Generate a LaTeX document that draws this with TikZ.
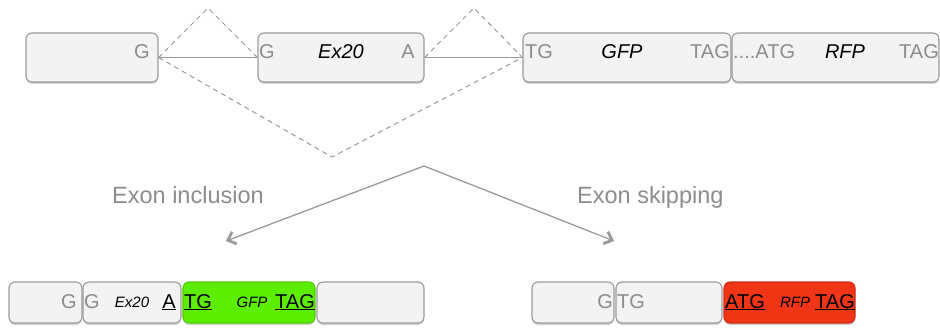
\documentclass[tikz,border=0pt]{standalone}
\usepackage{fontspec}
\setmainfont{Liberation Sans}
\usetikzlibrary{shadows,arrows.meta}
\definecolor{boxfill}{HTML}{F3F3F3}
\definecolor{boxline}{HTML}{9A9A9A}
\definecolor{seqgray}{HTML}{8C8C8C}
\definecolor{gfpgreen}{HTML}{5DED00}
\definecolor{rfpred}{HTML}{F03516}
\tikzset{
  exonbox/.style={draw=boxline, fill=boxfill, line width=1.1pt, rounded corners=6pt,
    inner sep=0pt, drop shadow={shadow xshift=0pt, shadow yshift=-2pt, opacity=0.35}},
  bigtext/.style={inner sep=0pt, font=\fontsize{20}{24}\selectfont},
  smalltext/.style={inner sep=0pt, font=\fontsize{15}{18}\selectfont\itshape},
  seqtext/.style={bigtext, text=seqgray},
  genename/.style={inner sep=0pt, font=\fontsize{20}{24}\selectfont\itshape, text=black},
  codon/.style={bigtext, text=black},
  intron/.style={draw=boxline, line width=1pt},
  splice/.style={draw=boxline, line width=1pt, dash pattern=on 5pt off 4pt},
  outcome/.style={draw=boxline, line width=1.3pt, -{Straight Barb[length=7pt,width=13pt,line width=2.8pt]}},
  caption/.style={inner sep=0pt, font=\fontsize{23.5}{28}\selectfont, text=seqgray}
}
\begin{document}
\begin{tikzpicture}[x=1pt,y=-1pt]
\useasboundingbox (0,0) rectangle (940,329);

% pre-mRNA exons
\node[exonbox, minimum width=132pt, minimum height=49pt] (e1) at (92,57.5) {};
\node[exonbox, minimum width=166pt, minimum height=49pt] (e2) at (341,57.5) {};
\node[exonbox, minimum width=208pt, minimum height=49pt] (e3) at (627,57.5) {};
\node[exonbox, minimum width=207pt, minimum height=49pt] (e4) at (835.5,57.5) {};

\node[seqtext, anchor=base east] (e1g) at (150,59) {G};
\node[seqtext, anchor=base west] (e2g) at (259,59) {G};
\node[genename, anchor=base] (e2n) at (341,59) {Ex20};
\node[seqtext, anchor=base east] (e2a) at (415,59) {A};
\node[seqtext, anchor=base west] (e3tg) at (525,59) {TG};
\node[genename, anchor=base] (e3n) at (622,59) {GFP};
\node[seqtext, anchor=base east] (e3tag) at (730,59) {TAG};
\node[seqtext, anchor=base west] (e4atg) at (733,59) {....ATG};
\node[genename, anchor=base] (e4n) at (845,59) {RFP};
\node[seqtext, anchor=base east] (e4tag) at (939,59) {TAG};

% introns and splicing choices
\coordinate (p1) at (208,8);
\coordinate (p2) at (474,8);
\coordinate (skip) at (332,157);
\draw[intron] (e1.east) -- (e2.west);
\draw[intron] (e2.east) -- (e3.west);
\draw[splice] (e1.east) -- (p1) -- (e2.west);
\draw[splice] (e2.east) -- (p2) -- (e3.west);
\draw[splice] (e1.east) -- (skip) -- (e3.west);

% outcomes
\coordinate (fork) at (424,166);
\coordinate (incl) at (226,241);
\coordinate (excl) at (614,241);
\draw[outcome] (fork) -- (incl);
\draw[outcome] (fork) -- (excl);
\node[caption, anchor=base west] (linc) at (112,203) {Exon inclusion};
\node[caption, anchor=base west] (lskip) at (577,203) {Exon skipping};

% mRNA with exon 20 included
\node[exonbox, minimum width=73pt, minimum height=41pt] (i1) at (45.5,302.5) {};
\node[exonbox, minimum width=98pt, minimum height=41pt] (i2) at (132,302.5) {};
\node[exonbox, fill=gfpgreen, draw=gfpgreen!85!black, minimum width=132pt, minimum height=41pt] (i3) at (249,302.5) {};
\node[exonbox, minimum width=107pt, minimum height=41pt] (i4) at (370.5,302.5) {};
\node[seqtext, anchor=base east] (i1g) at (77,308) {G};
\node[seqtext, anchor=base west] (i2g) at (84,308) {G};
\node[smalltext, anchor=base] (i2n) at (132,307) {Ex20};
\node[codon, anchor=base] (i2a) at (169,308) {\underline{A}};
\node[codon, anchor=base west] (i3tg) at (184,308) {\underline{TG}};
\node[smalltext, anchor=base] (i3n) at (252,307) {GFP};
\node[codon, anchor=base east] (i3tag) at (315,308) {\underline{TAG}};

% mRNA with exon 20 skipped
\node[exonbox, minimum width=82pt, minimum height=41pt] (s1) at (573,302.5) {};
\node[exonbox, minimum width=106pt, minimum height=41pt] (s2) at (669,302.5) {};
\node[exonbox, fill=rfpred, draw=rfpred!85!black, minimum width=131pt, minimum height=41pt] (s3) at (789.5,302.5) {};
\node[seqtext, anchor=base east] (s1g) at (613,308) {G};
\node[seqtext, anchor=base west] (s2tg) at (617,308) {TG};
\node[codon, anchor=base west] (s3atg) at (725,308) {\underline{ATG}};
\node[smalltext, anchor=base] (s3n) at (795,307) {RFP};
\node[codon, anchor=base east] (s3tag) at (855,308) {\underline{TAG}};
\end{tikzpicture}
\end{document}
